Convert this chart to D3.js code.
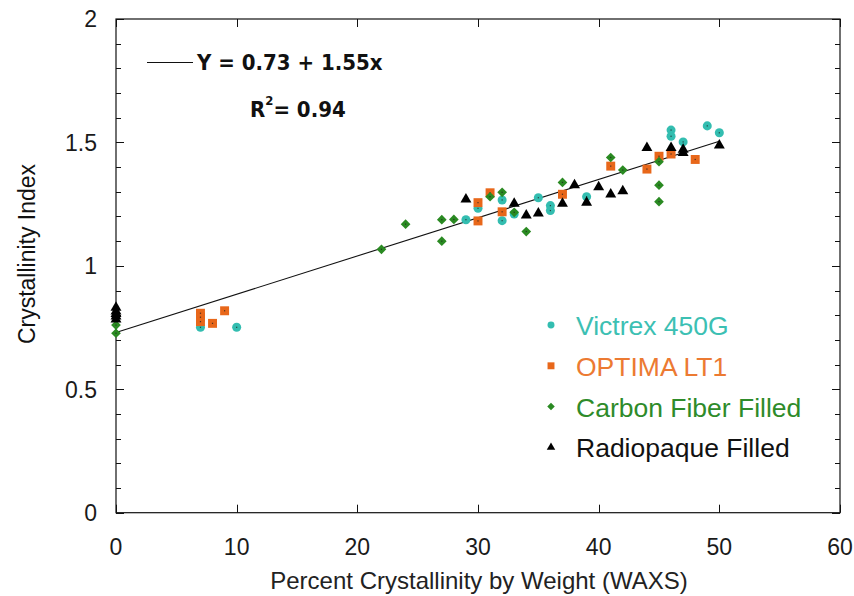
<!DOCTYPE html>
<html>
<head>
<meta charset="utf-8">
<script src="https://cdn.jsdelivr.net/npm/d3@7"></script>
<style>
  html, body { margin: 0; padding: 0; background: #fff; }
  svg { display: block; }
</style>
</head>
<body>
<svg id="chart" width="854" height="596"></svg>
<script>
// Crystallinity index vs. WAXS crystallinity for four PEEK material groups
const victrex450G = [
  [7, 0.751], [10, 0.751], [29, 1.187], [30, 1.233], [32, 1.267], [32, 1.183],
  [33, 1.21], [35, 1.276], [36, 1.244], [36, 1.224], [39, 1.28], [46, 1.55],
  [46, 1.525], [47, 1.502], [49, 1.567], [50, 1.539]
];
const optimaLT1 = [
  [7, 0.808], [7, 0.792], [7, 0.774], [8, 0.767], [9, 0.818], [30, 1.182],
  [30, 1.256], [31, 1.296], [32, 1.219], [37, 1.29], [41, 1.404], [44, 1.392],
  [45, 1.444], [46, 1.453], [48, 1.431]
];
const carbonFiber = [
  [0, 0.76], [0, 0.727], [22, 1.067], [24, 1.169], [27, 1.187], [27, 1.1],
  [28, 1.188], [31, 1.28], [32, 1.298], [33, 1.217], [34, 1.139], [37, 1.338],
  [41, 1.439], [42, 1.388], [45, 1.422], [45, 1.327], [45, 1.26]
];
const radiopaque = [
  [0, 0.787], [0, 0.80], [0, 0.81], [0, 0.82], [0, 0.835], [29, 1.274],
  [33, 1.256], [34, 1.209], [35, 1.217], [37, 1.256], [38, 1.331], [39, 1.26],
  [40, 1.323], [41, 1.294], [42, 1.307], [44, 1.482], [46, 1.482], [47, 1.475],
  [47, 1.462], [50, 1.492]
];

const seriesNames = ["Victrex 450G", "OPTIMA LT1", "Carbon Fiber Filled", "Radiopaque Filled"];
const xTicks = [0, 10, 20, 30, 40, 50, 60];
const yTicks = [0, 0.5, 1, 1.5, 2];
const fitIntercept = 0.73;
const fitSlope = 1.55;          // per unit crystallinity fraction
const fitRange = [0, 50];        // percent
const fitR2 = 0.94;

const xTitle = "Percent Crystallinity by Weight (WAXS)";
const yTitle = "Crystallinity Index";

const svg = d3.select("#chart");
const L = 116, R = 840, T = 19, B = 512.7;
const x = d3.scaleLinear().domain([0, 60]).range([L, R]);
const y = d3.scaleLinear().domain([0, 2]).range([B, T]);

const font = "'Liberation Sans', Arial, Helvetica, sans-serif";

// frame
svg.append("rect")
  .attr("x", L).attr("y", T).attr("width", R - L).attr("height", B - T)
  .attr("fill", "none").attr("stroke", "#111").attr("stroke-width", 1.2);

// y ticks every 0.1, longer at labelled values
const yMinor = d3.range(0, 2.0001, 0.1).map(v => +v.toFixed(1));
const tickG = svg.append("g").attr("stroke", "#111").attr("stroke-width", 1);
yMinor.forEach(v => {
  const major = yTicks.some(t => Math.abs(t - v) < 1e-6);
  const len = major ? 8 : 5;
  const yy = Math.round(y(v)) + 0.5;
  tickG.append("line").attr("x1", L).attr("x2", L + len).attr("y1", yy).attr("y2", yy);
  tickG.append("line").attr("x1", R).attr("x2", R - len).attr("y1", yy).attr("y2", yy);
});
xTicks.forEach(v => {
  const xx = Math.round(x(v)) + 0.5;
  tickG.append("line").attr("x1", xx).attr("x2", xx).attr("y1", B).attr("y2", B - 8);
  tickG.append("line").attr("x1", xx).attr("x2", xx).attr("y1", T).attr("y2", T + 8);
});

// tick labels
svg.append("g").selectAll("text").data(yTicks).join("text")
  .attr("x", L - 19).attr("y", d => y(d)).attr("dy", "0.36em")
  .attr("text-anchor", "end")
  .attr("font-family", font).attr("font-size", 23).attr("fill", "#1a1a1a")
  .text(d => d3.format("")(d));
svg.append("g").selectAll("text").data(xTicks).join("text")
  .attr("x", d => x(d)).attr("y", 555)
  .attr("text-anchor", "middle")
  .attr("font-family", font).attr("font-size", 23).attr("fill", "#1a1a1a")
  .text(d => d);

// axis titles
svg.append("text")
  .attr("x", 479).attr("y", 589)
  .attr("text-anchor", "middle")
  .attr("font-family", font).attr("font-size", 24).attr("fill", "#222")
  .text(xTitle);
svg.append("text")
  .attr("transform", `translate(35,254) rotate(-90)`)
  .attr("text-anchor", "middle")
  .attr("font-family", font).attr("font-size", 23).attr("fill", "#111")
  .text(yTitle);

// regression line
const fitLine = d3.line().x(d => x(d)).y(d => y(fitIntercept + fitSlope * d / 100));
svg.append("path")
  .attr("d", fitLine(fitRange))
  .attr("fill", "none").attr("stroke", "#111").attr("stroke-width", 1.1);

// markers
const colors = ["#33bdb0", "#e8671a", "#2a8a22", "#000000"];
const textColors = ["#3cc0b3", "#ec7a32", "#2e8b2a", "#111111"];
const symbols = [d3.symbolCircle, d3.symbolSquare, d3.symbolDiamond2, d3.symbolTriangle];
const sizes = [64, 80, 60, 52];
const datasets = [victrex450G, optimaLT1, carbonFiber, radiopaque];

datasets.forEach((data, i) => {
  const g = svg.append("g");
  const sym = d3.symbol().type(symbols[i]).size(sizes[i]);
  g.selectAll("path").data(data).join("path")
    .attr("d", sym)
    .attr("transform", d => `translate(${x(d[0])},${y(d[1]) + (i === 3 ? 1 : 0)})`)
    .attr("fill", colors[i]);
  if (i < 3) {
    g.selectAll("rect.dot").data(data).join("rect")
      .attr("class", "dot")
      .attr("x", d => x(d[0]) - 0.6).attr("y", d => y(d[1]) - 0.6)
      .attr("width", 1.2).attr("height", 1.2)
      .attr("fill", "#222").attr("opacity", 0.8);
  }
});

// legend
const legX = 551, legY0 = 325, legDy = 40.8;
seriesNames.forEach((name, i) => {
  const cy = legY0 + i * legDy;
  svg.append("path")
    .attr("d", d3.symbol().type(symbols[i]).size(sizes[i] * 0.6)())
    .attr("transform", `translate(${legX},${cy})`)
    .attr("fill", colors[i]);
  svg.append("text")
    .attr("x", 576).attr("y", cy + 10)
    .attr("font-family", font).attr("font-size", 26.5)
    .attr("fill", textColors[i])
    .text(name);
});

// fit equation
const eqFont = "'DejaVu Sans Condensed', 'Liberation Sans Narrow', 'Arial Narrow', sans-serif";
svg.append("line")
  .attr("x1", 147).attr("x2", 193).attr("y1", 62.5).attr("y2", 62.5)
  .attr("stroke", "#111").attr("stroke-width", 1.1);
svg.append("text")
  .attr("x", 197).attr("y", 70)
  .attr("font-family", eqFont).attr("font-weight", "bold").attr("font-size", 22)
  .attr("fill", "#111")
  .text(`Y = ${fitIntercept} + ${fitSlope}x`);
const r2 = svg.append("text")
  .attr("x", 250).attr("y", 117)
  .attr("font-family", eqFont).attr("font-weight", "bold").attr("font-size", 22)
  .attr("fill", "#111");
r2.append("tspan").text("R");
r2.append("tspan").attr("font-size", 13).attr("dy", -12).text("2");
r2.append("tspan").attr("dy", 12).text(`= ${fitR2}`);
</script>
</body>
</html>
